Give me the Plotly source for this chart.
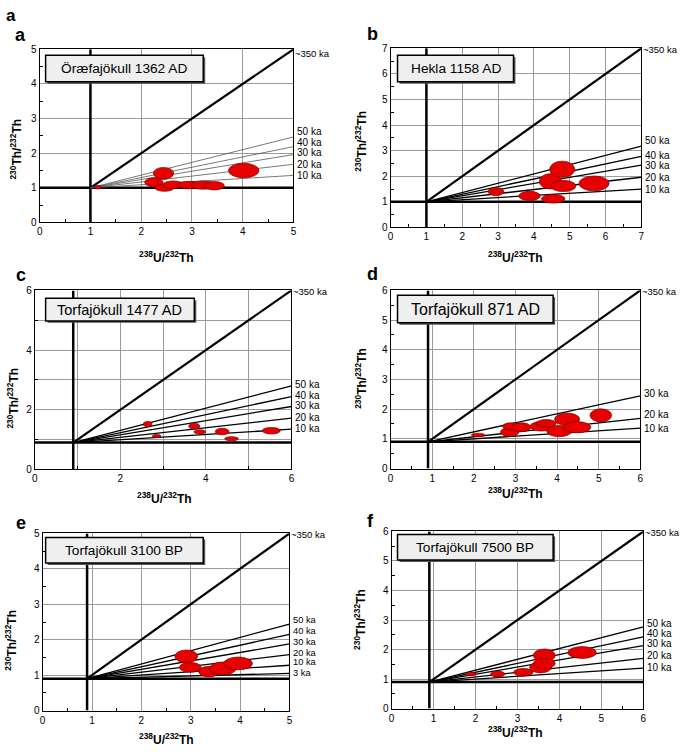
import plotly.graph_objects as go

W, H = 685, 752

# ---------------- data ----------------
# Panel a : Öræfajökull 1362 AD
a_u   = [1.15, 2.44, 2.25, 2.46, 2.63, 2.95, 3.22, 3.44, 4.02]
a_th  = [1.02, 1.42, 1.16, 1.00, 1.09, 1.08, 1.08, 1.06, 1.50]
a_eu  = [0.07, 0.20, 0.18, 0.19, 0.20, 0.24, 0.24, 0.20, 0.30]
a_eth = [0.05, 0.17, 0.13, 0.10, 0.11, 0.11, 0.12, 0.12, 0.21]
a_ages = ["50 ka", "40 ka", "30 ka", "20 ka", "10 ka"]
a_age_end = [2.47, 2.19, 1.96, 1.68, 1.36]

# Panel b : Hekla 1158 AD
b_u   = [2.94, 3.88, 4.54, 4.46, 4.79, 4.82, 5.68]
b_th  = [1.40, 1.23, 1.12, 1.80, 2.27, 1.62, 1.72]
b_eu  = [0.22, 0.30, 0.33, 0.31, 0.35, 0.35, 0.42]
b_eth = [0.16, 0.18, 0.17, 0.30, 0.32, 0.22, 0.29]
b_ages = ["50 ka", "40 ka", "30 ka", "20 ka", "10 ka"]
b_age_end = [3.18, 2.78, 2.43, 1.96, 1.50]

# Panel c : Torfajökull 1477 AD
c_u   = [2.64, 2.85, 3.73, 3.86, 4.38, 4.60, 5.53]
c_th  = [1.52, 1.12, 1.45, 1.26, 1.27, 1.03, 1.30]
c_eu  = [0.10, 0.10, 0.13, 0.14, 0.16, 0.16, 0.21]
c_eth = [0.09, 0.05, 0.10, 0.07, 0.11, 0.07, 0.11]
c_ages = ["50 ka", "40 ka", "30 ka", "20 ka", "10 ka"]
c_age_end = [2.80, 2.44, 2.11, 1.72, 1.35]

# Panel d : Torfajökull 871 AD
d_u   = [2.10, 2.86, 2.90, 3.14, 3.62, 3.74, 4.05, 4.24, 4.48, 5.05]
d_th  = [1.13, 1.23, 1.42, 1.39, 1.42, 1.52, 1.26, 1.66, 1.39, 1.79]
d_eu  = [0.16, 0.22, 0.21, 0.23, 0.27, 0.24, 0.30, 0.30, 0.33, 0.26]
d_eth = [0.06, 0.15, 0.12, 0.15, 0.16, 0.13, 0.19, 0.21, 0.19, 0.22]
d_ages = ["30 ka", "20 ka", "10 ka"]
d_age_end = [2.45, 1.69, 1.36]

# Panel e : Torfajökull 3100 BP
e_u   = [2.91, 2.99, 3.37, 3.65, 3.96]
e_th  = [1.53, 1.22, 1.10, 1.19, 1.33]
e_eu  = [0.23, 0.22, 0.21, 0.27, 0.29]
e_eth = [0.18, 0.14, 0.15, 0.18, 0.18]
e_ages = ["50 ka", "40 ka", "30 ka", "20 ka", "10 ka", "3 ka"]
e_age_end = [2.44, 2.15, 1.88, 1.58, 1.28, 1.05]

# Panel f : Torfajökull 7500 BP
f_u   = [1.89, 2.53, 3.14, 3.55, 3.64, 3.64, 4.54]
f_th  = [1.17, 1.17, 1.23, 1.40, 1.80, 1.53, 1.90]
f_eu  = [0.13, 0.17, 0.23, 0.26, 0.26, 0.26, 0.34]
f_eth = [0.06, 0.10, 0.13, 0.19, 0.22, 0.17, 0.20]
f_ages = ["50 ka", "40 ka", "30 ka", "20 ka", "10 ka"]
f_age_end = [2.77, 2.43, 2.13, 1.70, 1.37]

equiline_label = "~350 ka"
titles = ["Öræfajökull 1362 AD", "Hekla 1158 AD", "Torfajökull 1477 AD",
          "Torfajökull 871 AD", "Torfajökull 3100 BP", "Torfajökull 7500 BP"]
letters = ["a", "b", "c", "d", "e", "f"]
origins = [1.0, 1.0, 0.9, 0.9, 0.9, 0.9]
vmax = [5, 7, 6, 6, 5, 6]

data = [
    (a_u, a_th, a_eu, a_eth, a_ages, a_age_end),
    (b_u, b_th, b_eu, b_eth, b_ages, b_age_end),
    (c_u, c_th, c_eu, c_eth, c_ages, c_age_end),
    (d_u, d_th, d_eu, d_eth, d_ages, d_age_end),
    (e_u, e_th, e_eu, e_eth, e_ages, e_age_end),
    (f_u, f_th, f_eu, f_eth, f_ages, f_age_end),
]

# ---------------- layout / style (pixel boxes on the page) ----------------
plot_box = [(37, 44, 293, 220), (391, 43, 644, 225), (32, 289, 291, 471),
            (391, 289, 643, 470), (40, 536, 289, 716), (392, 534, 646, 714)]
title_box = [(43, 50, 202, 77, 13.7), (398, 50, 515, 77, 13.7), (43, 297, 193, 320, 14.5),
             (398, 294, 555, 322, 16.0), (43, 540, 202, 566, 13.7), (398, 537, 555, 563, 13.7)]
letter_pos = [(18, 29), (373, 28), (18, 273), (373, 272), (18, 525), (371, 523)]
ytitle_pos = [(13, 145), (361, 137), (10, 398), (361, 378), (8, 644), (360, 623)]
xtitle_pos = [(165, 255), (517, 255), (163, 500), (517, 495), (165, 745), (517, 738)]
label_shift = [[5, 4, 2, 0, 0], [6, 1, 0, 0, 0], [1, 1, 1, 1, 1],
               [2, 4, 0], [4, 3, 2, 2, 3, 0], [3, 3, 2, 3, 1]]
label_size = [10, 10, 10, 10, 9.3, 10]
iso_width = [0.8, 1.3, 1.3, 1.3, 1.3, 1.3]
iso_color = ["#555555", "black", "black", "black", "black", "black"]

FONT = "Liberation Sans, Arial, Helvetica, sans-serif"
RED = "#e60000"
GRID = "#9a9a9a"

def px(x):
    return x / W

def py(y):
    return 1 - y / H

fig = go.Figure()
layout = dict(width=W, height=H, margin=dict(l=0, r=0, t=0, b=0),
              paper_bgcolor="white", plot_bgcolor="white", showlegend=False,
              font=dict(family=FONT, color="black", size=10))
shapes = []
annotations = []

for i, (u, th, eu, eth, ages, ends) in enumerate(data):
    n = "" if i == 0 else str(i + 1)
    xa, ya = "x" + n, "y" + n
    l, t, r, b = plot_box[i]
    vm = vmax[i]
    o = origins[i]
    major = 2 if i == 2 else 1
    minor = dict(dtick=1, showgrid=True, gridcolor=GRID, gridwidth=1,
                 ticks="inside", ticklen=3, tickcolor="black") if i == 2 else \
        dict(dtick=0.5, showgrid=False, ticks="inside", ticklen=3, tickcolor="black")
    common = dict(range=[0, vm], dtick=major, tick0=0, showgrid=True, gridcolor=GRID,
                  gridwidth=1, zeroline=False, showline=True, linecolor="black",
                  linewidth=1, mirror=True, ticks="", tickfont=dict(size=10, family=FONT),
                  minor=minor, fixedrange=True)
    layout["xaxis" + n] = dict(common, domain=[px(l), px(r)], anchor=ya)
    layout["yaxis" + n] = dict(common, domain=[py(b), py(t)], anchor=xa)

    # reference lines through the origin
    fig.add_trace(go.Scatter(x=[o, o], y=[0, vm], mode="lines", xaxis=xa, yaxis=ya,
                             line=dict(color="black", width=2.5), hoverinfo="skip"))
    fig.add_trace(go.Scatter(x=[0, vm], y=[o, o], mode="lines", xaxis=xa, yaxis=ya,
                             line=dict(color="black", width=2.5), hoverinfo="skip"))
    # equiline
    fig.add_trace(go.Scatter(x=[o, vm], y=[o, vm], mode="lines", xaxis=xa, yaxis=ya,
                             line=dict(color="black", width=2.2), hoverinfo="skip"))
    annotations.append(dict(x=vm, y=vm, xref=xa, yref=ya, text=equiline_label,
                            showarrow=False, xanchor="left", yanchor="middle",
                            xshift=1, yshift=-4 if i == 0 else -1, borderpad=0,
                            font=dict(size=9.5, family=FONT)))
    # isochrons
    for k, (lab, e) in enumerate(zip(ages, ends)):
        fig.add_trace(go.Scatter(x=[o, vm], y=[o, e], mode="lines", xaxis=xa, yaxis=ya,
                                 line=dict(color=iso_color[i], width=iso_width[i]),
                                 hoverinfo="skip"))
        annotations.append(dict(x=vm, y=e, xref=xa, yref=ya, text=lab, showarrow=False,
                                xanchor="left", yanchor="middle", xshift=3, borderpad=0,
                                yshift=label_shift[i][k],
                                font=dict(size=label_size[i], family=FONT)))
    # data ellipses
    for cx, cy, rx, ry in zip(u, th, eu, eth):
        shapes.append(dict(type="circle", xref=xa, yref=ya, x0=cx - rx, x1=cx + rx,
                           y0=cy - ry, y1=cy + ry, fillcolor=RED,
                           line=dict(color="#7a0000", width=0.7), layer="above"))

    # title box (shadow + box + text)
    bl, bt, br, bb, fs = title_box[i]
    shapes.append(dict(type="rect", xref="paper", yref="paper", x0=px(bl + 2), x1=px(br + 2),
                       y0=py(bb + 2), y1=py(bt + 2), fillcolor="#555555",
                       line=dict(width=0), layer="above"))
    shapes.append(dict(type="rect", xref="paper", yref="paper", x0=px(bl), x1=px(br),
                       y0=py(bb), y1=py(bt), fillcolor="#efefef",
                       line=dict(color="black", width=1.5), layer="above"))
    annotations.append(dict(x=px((bl + br) / 2), y=py((bt + bb) / 2), xref="paper",
                            yref="paper", xanchor="center", yanchor="middle",
                            text=titles[i], showarrow=False,
                            font=dict(size=fs, family=FONT, color="black")))
    # panel letter
    lx, ly = letter_pos[i]
    annotations.append(dict(x=px(lx), y=py(ly), xref="paper", yref="paper",
                            text="<b>" + letters[i] + "</b>", showarrow=False,
                            xanchor="center", yanchor="middle",
                            font=dict(size=18, family=FONT)))
    # axis titles
    tx, ty = ytitle_pos[i]
    annotations.append(dict(x=px(tx), y=py(ty), xref="paper", yref="paper",
                            text="<b><sup>230</sup>Th/<sup>232</sup>Th</b>", showarrow=False,
                            textangle=-90, xanchor="center", yanchor="middle",
                            font=dict(size=12, family=FONT)))
    tx, ty = xtitle_pos[i]
    annotations.append(dict(x=px(tx), y=py(ty), xref="paper", yref="paper",
                            text="<b><sup>238</sup>U/<sup>232</sup>Th</b>", showarrow=False,
                            xanchor="center", yanchor="middle",
                            font=dict(size=12, family=FONT)))

# figure label
annotations.append(dict(x=px(8), y=py(10), xref="paper", yref="paper", text="<b>a</b>",
                        showarrow=False, xanchor="center", yanchor="middle",
                        font=dict(size=17, family=FONT)))

layout["shapes"] = shapes
layout["annotations"] = annotations
fig.update_layout(**layout)
fig.write_html("out.html", config={"displayModeBar": False},
               post_script="document.body.style.margin='0';")
